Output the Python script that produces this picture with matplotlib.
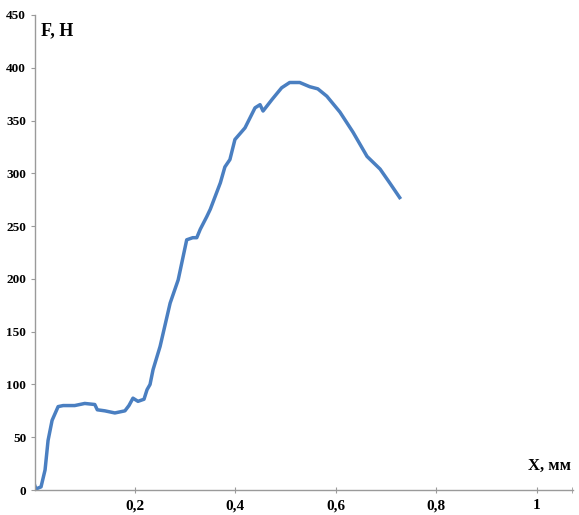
import numpy as np
import matplotlib
matplotlib.use('Agg')
import matplotlib.pyplot as plt
from matplotlib.ticker import FuncFormatter

# displacement, mm
x_mm = [0.0, 0.003, 0.013, 0.021, 0.027, 0.035, 0.047, 0.057, 0.08, 0.1, 0.12, 0.125,
        0.14, 0.16, 0.18, 0.188, 0.196, 0.206, 0.218, 0.224, 0.23, 0.236, 0.25, 0.27,
        0.286, 0.303, 0.315, 0.323, 0.33, 0.343, 0.35, 0.37, 0.379, 0.389, 0.399,
        0.419, 0.439, 0.449, 0.455, 0.473, 0.492, 0.508, 0.528, 0.548, 0.564, 0.582,
        0.608, 0.634, 0.662, 0.688, 0.707, 0.727]
# force, N
force_n = [5, 1, 3, 19, 47, 66, 79, 80, 80, 82, 81, 76,
           75, 73, 75, 80, 87, 84, 86, 95, 100, 114, 136, 177,
           199, 237, 239, 239, 247, 259, 266, 291, 306, 313, 332,
           343, 362, 365, 359, 370, 381, 386, 386, 382, 380, 373,
           358, 339, 316, 304, 291, 277]

y_ticks = [0, 50, 100, 150, 200, 250, 300, 350, 400, 450]
x_ticks = [0.2, 0.4, 0.6, 0.8, 1.0]

serif = ['Liberation Serif', 'DejaVu Serif']
axis_col = '#9a9a9a'

fig = plt.figure(figsize=(5.79, 5.15), dpi=100)
ax = fig.add_axes([0.0596, 0.0485, 0.93, 0.9225])

ax.plot(x_mm, force_n, color='#4a7fc1', lw=2.5, solid_joinstyle='round')

ax.set_xlim(0, 1.072)
ax.set_ylim(0, 450)
ax.set_xticks(x_ticks)
ax.set_xticks([1.07], minor=True)
ax.set_yticks(y_ticks)
ax.xaxis.set_major_formatter(FuncFormatter(lambda v, p: ('%g' % v).replace('.', ',')))

for s in ['top', 'right']:
    ax.spines[s].set_visible(False)
for s in ['left', 'bottom']:
    ax.spines[s].set_color(axis_col)
    ax.spines[s].set_linewidth(1.0)

ax.tick_params(axis='y', direction='out', length=3, color=axis_col, pad=3)
ax.tick_params(axis='x', which='both', direction='inout', length=5, color=axis_col, pad=4)
for lab in ax.get_yticklabels():
    lab.set_fontfamily(serif)
    lab.set_fontweight('bold')
    lab.set_fontsize(9.5)
for lab in ax.get_xticklabels():
    lab.set_fontfamily(serif)
    lab.set_fontweight('bold')
    lab.set_fontsize(11)

ax.text(0.012, 0.985, 'F, Н', transform=ax.transAxes, family=serif, fontweight='bold',
        fontsize=13, ha='left', va='top')
ax.text(0.997, 0.035, 'X, мм', transform=ax.transAxes, family=serif, fontweight='bold',
        fontsize=12, ha='right', va='bottom')

fig.savefig('out.png', dpi=100)
